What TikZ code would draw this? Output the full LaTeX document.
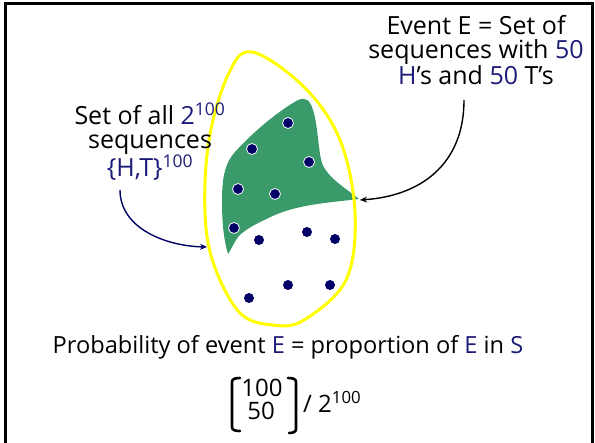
\documentclass[tikz,border=0pt]{standalone}
\usepackage{fontspec}
\setmainfont{Open Sans}
\usetikzlibrary{arrows.meta}
\definecolor{navy}{HTML}{000066}
\definecolor{navytext}{HTML}{1C1C78}
\definecolor{evgreen}{HTML}{3A9A6A}
\definecolor{hlyellow}{HTML}{FFFF00}
\newcommand\blu[1]{\textcolor{navytext}{#1}}
\begin{document}
\begin{tikzpicture}[x=1pt,y=-1pt,
  lbl/.style={font=\fontsize{24}{24}\selectfont, align=center, inner sep=0pt},
  dotg/.style={circle, fill=navy, draw=white, line width=0.8pt, minimum size=11pt, inner sep=0pt},
  dotw/.style={circle, fill=navy, minimum size=10pt, inner sep=0pt},
  conn/.style={line width=1.4pt, -{Stealth[length=7pt,width=6pt]}}]
\useasboundingbox (0,0) rectangle (595,443);
\fill[white] (0,0) rectangle (595,443);
% frame
\draw[line width=2.6pt] (5.3,443) -- (5.3,3.3) -- (592.7,3.3) -- (592.7,443);
% event region
\fill[evgreen] (228,254) .. controls (224,240) and (222,225) .. (222,200)
  .. controls (222,175) and (226,162) .. (235,152)
  .. controls (255,130) and (280,110) .. (298,100)
  .. controls (306,97) and (310,100) .. (313,110)
  .. controls (318,125) and (318,150) .. (322,163)
  .. controls (327,177) and (345,188) .. (359,199)
  .. controls (335,202) and (300,204) .. (275,215)
  .. controls (255,224) and (240,232) .. (236,240)
  .. controls (232,247) and (230,251) .. (228,254) -- cycle;
% sample space
\draw[hlyellow, line width=3pt] plot[smooth cycle, tension=0.6] coordinates
  {(252,52) (304,87) (340,140) (355,213) (346,280) (304,320) (273,325) (240,313) (214,265) (205,213) (209,140) (228,75)};
% dots in E
\node[dotg] (g1) at (288,123) {};
\node[dotg] (g2) at (252,149) {};
\node[dotg] (g3) at (309,162) {};
\node[dotg] (g4) at (238,189) {};
\node[dotg] (g5) at (275,194) {};
\node[dotg] (g6) at (234,228) {};
% other dots
\node[dotw] (w1) at (259,240) {};
\node[dotw] (w2) at (307,232) {};
\node[dotw] (w3) at (335,239) {};
\node[dotw] (w4) at (288,285) {};
\node[dotw] (w5) at (330,285) {};
\node[dotw] (w6) at (249,298) {};
% labels
\node[lbl, font=\fontsize{25}{24}\selectfont] (evt) at (476,50) {Event E = Set of\\sequences with \blu{50}\\\blu{H}’s and \blu{50} T’s};
\node[lbl, font=\fontsize{25}{23.5}\selectfont] (all) at (150,142) {Set of all \blu{2\textsuperscript{100}}\\sequences\\\blu{\{H,T\}\textsuperscript{100}}};
\node[lbl, font=\fontsize{23.6}{24}\selectfont] (prob) at (288,347) {Probability of event \blu{E} = proportion of \blu{E} in \blu{S}};
% connectors
\coordinate (evtstart) at (464,100);
\coordinate (evtend) at (360,200);
\coordinate (allstart) at (120,190);
\coordinate (allend) at (207,247);
\draw[conn, black] (evtstart) .. controls (464,165) and (420,196) .. (evtend);
\draw[conn, navy] (allstart) .. controls (120,228) and (165,246) .. (allend);
% binomial
\node[lbl] (top) at (262,388) {100};
\node[lbl] (bot) at (261,411) {50};
\draw[line width=2.6pt, line cap=round, line join=round] (240,378) .. controls (235,378) and (232,379) .. (232,382) -- (232,427) .. controls (232,430) and (235,431) .. (240,431);
\draw[line width=2.6pt, line cap=round, line join=round] (288,378) .. controls (293,378) and (296,379) .. (296,382) -- (296,429) .. controls (296,432) and (293,433) .. (289,433);
\node[lbl, anchor=west] (den) at (303,402) {/ 2\textsuperscript{100}};
\end{tikzpicture}
\end{document}
